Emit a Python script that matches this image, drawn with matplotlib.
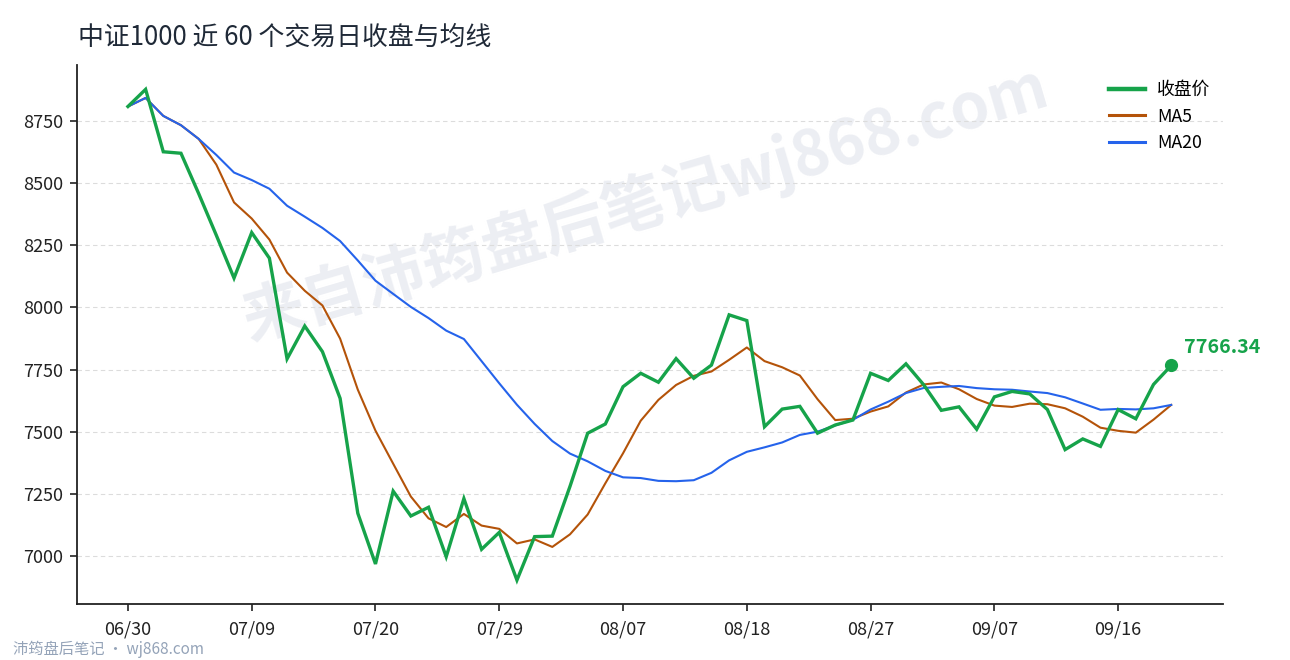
import matplotlib
matplotlib.use("Agg")
import matplotlib.pyplot as plt

plt.rcParams['font.family'] = ['Noto Sans CJK SC', 'DejaVu Sans']

# ---- data ----
close = [8808, 8877, 8626, 8620, 8458, 8290, 8118, 8301, 8198, 7793,
         7925, 7822, 7634, 7172, 6968, 7261, 7161, 7196, 6997, 7231,
         7027, 7095, 6903, 7078, 7080, 7280, 7494, 7531, 7681, 7735,
         7699, 7794, 7715, 7768, 7970, 7947, 7520, 7591, 7602, 7494,
         7527, 7547, 7735, 7706, 7773, 7689, 7586, 7600, 7510, 7640,
         7662, 7652, 7589, 7428, 7471, 7441, 7589, 7552, 7690, 7766.34]

ma5 = [8808.0, 8842.5, 8770.3, 8732.8, 8677.8, 8574.2, 8422.4, 8357.4, 8273.0, 8140.0,
       8067.0, 8007.8, 7874.4, 7669.2, 7504.2, 7371.4, 7239.2, 7151.6, 7116.6, 7169.2,
       7122.4, 7109.2, 7050.6, 7066.8, 7036.6, 7087.2, 7167.0, 7292.6, 7413.2, 7544.2,
       7628.0, 7688.0, 7724.8, 7742.2, 7789.2, 7838.8, 7784.0, 7759.2, 7726.0, 7630.8,
       7546.8, 7552.2, 7581.0, 7601.8, 7657.6, 7690.0, 7697.8, 7670.8, 7631.6, 7605.0,
       7599.6, 7612.8, 7610.6, 7594.2, 7560.4, 7516.2, 7503.6, 7496.2, 7548.6, 7607.7]

ma20 = [8808.0, 8842.5, 8770.3, 8732.8, 8677.8, 8613.2, 8542.4, 8512.3, 8477.3, 8408.9,
        8364.9, 8319.7, 8266.9, 8188.7, 8107.3, 8054.4, 8001.9, 7957.1, 7906.6, 7872.8,
        7783.8, 7694.7, 7608.5, 7531.4, 7462.5, 7412.0, 7380.8, 7342.3, 7316.5, 7313.6,
        7302.3, 7300.9, 7304.9, 7334.7, 7384.8, 7419.1, 7437.1, 7456.8, 7487.1, 7500.2,
        7525.2, 7547.8, 7589.4, 7620.8, 7655.5, 7675.9, 7680.5, 7684.0, 7675.4, 7670.7,
        7668.8, 7661.7, 7655.4, 7638.4, 7613.5, 7588.2, 7591.6, 7589.7, 7594.1, 7607.7]

tick_idx = [0, 7, 14, 21, 28, 35, 42, 49, 56]
tick_labels = ["06/30", "07/09", "07/20", "07/29", "08/07", "08/18", "08/27", "09/07", "09/16"]
y_ticks = [7000, 7250, 7500, 7750, 8000, 8250, 8500, 8750]

title = "中证1000 近 60 个交易日收盘与均线"
series_names = ["收盘价", "MA5", "MA20"]

GREEN = "#16a34a"
ORANGE = "#b45309"
BLUE = "#2563eb"

W, H = 1290, 660
fig = plt.figure(figsize=(W / 100, H / 100), dpi=100)
ax = fig.add_axes([77 / W, 1 - 604 / H, (1223 - 77) / W, (604 - 65) / H])

x = list(range(len(close)))

# watermark
ax.text(645 / W, 1 - 203 / H, "来自沛筠盘后笔记wj868.com", transform=fig.transFigure,
        fontsize=45, fontweight='bold', color='#eceef3', rotation=16.4,
        ha='center', va='center', zorder=0.5)

ax.plot(x, close, color=GREEN, lw=2.4, label=series_names[0], zorder=4,
        solid_joinstyle='miter')
ax.plot(x, ma5, color=ORANGE, lw=1.5, label=series_names[1], zorder=3)
ax.plot(x, ma20, color=BLUE, lw=1.5, label=series_names[2], zorder=3)
ax.plot([x[-1]], [close[-1]], 'o', color=GREEN, ms=8.5, zorder=5)
ax.annotate(f"{close[-1]:.2f}", xy=(x[-1], close[-1]), xytext=(9, 13),
            textcoords='offset points', ha='left', va='center',
            fontsize=14.2, fontweight='bold', color=GREEN)

ax.set_xlim(-2.88, 61.93)
ax.set_ylim(6807, 8975)
ax.set_xticks(tick_idx)
ax.set_xticklabels(tick_labels)
ax.set_yticks(y_ticks)
ax.set_yticklabels([str(v) for v in y_ticks])
ax.tick_params(axis='both', labelsize=13, colors='#222222', length=5, width=1.2, pad=5)
ax.tick_params(axis='x', pad=7)

ax.grid(axis='y', linestyle=(0, (4, 3)), color='#dcdcdc', lw=0.8)
ax.set_axisbelow(True)
for s in ['top', 'right']:
    ax.spines[s].set_visible(False)
for s in ['left', 'bottom']:
    ax.spines[s].set_color('#222222')
    ax.spines[s].set_linewidth(1.3)

leg = ax.legend(loc='upper left', bbox_to_anchor=(1109 / W, 1 - 81 / H),
                bbox_transform=fig.transFigure, frameon=False, fontsize=12.8,
                handlelength=2.05, handletextpad=0.65, labelspacing=0.48,
                borderpad=0, borderaxespad=0)
leg.get_lines()[0].set_linewidth(3.2)
leg.get_lines()[1].set_linewidth(2.2)
leg.get_lines()[2].set_linewidth(2.2)

fig.text(78 / W, 1 - 37 / H, title, fontsize=18.6, color='#1f2937', ha='left', va='center')
fig.text(13 / W, 1 - 649 / H, "沛筠盘后笔记 · wj868.com", fontsize=11, color='#94a3b8',
         ha='left', va='center')

fig.savefig("out.png", dpi=100)
